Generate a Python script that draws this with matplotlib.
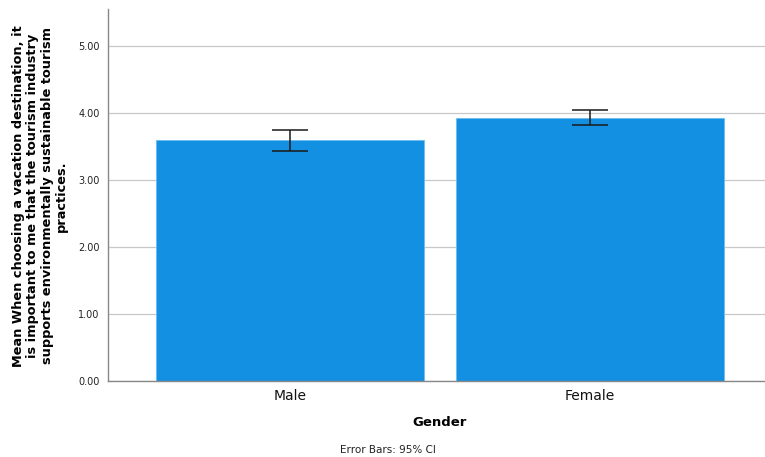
import numpy as np
import matplotlib
matplotlib.use('Agg')
import matplotlib.pyplot as plt

# values
genders = ['Male', 'Female']
means = [3.59, 3.93]
ci_low = [3.43, 3.82]
ci_high = [3.75, 4.04]
yticks = [0, 1, 2, 3, 4, 5]

plt.rcParams['font.family'] = ['DejaVu Sans']

fig = plt.figure(figsize=(7.65, 4.57), dpi=100)
ax = fig.add_axes([108 / 765, 1 - 381 / 457, 1 - 108 / 765, (381 - 9) / 457])

x = np.arange(len(genders))
means = np.array(means)
yerr = np.array([means - np.array(ci_low), np.array(ci_high) - means])

ax.bar(x, means, width=0.895, color='#1490e3', edgecolor='#6cbcf0', linewidth=0.6, zorder=2)
ax.errorbar(x, means, yerr=yerr, fmt='none', ecolor='#1a1a1a', elinewidth=1.1,
            capsize=13, capthick=1.1, zorder=3)

ax.set_xlim(-0.608, 1.586)
ax.set_ylim(0, 5.55)
ax.set_yticks(yticks)
ax.set_yticklabels(['%.2f' % v for v in yticks], fontsize=7, color='#222222')
ax.set_xticks(x)
ax.set_xticklabels(genders, fontsize=10, color='#111111')
ax.tick_params(axis='x', length=0, pad=6)
ax.tick_params(axis='y', length=0, pad=6)
ax.yaxis.grid(True, color='#c8c8c8', linewidth=0.9, zorder=0)
ax.set_axisbelow(True)
for s in ['top', 'right']:
    ax.spines[s].set_visible(False)
for s in ['left', 'bottom']:
    ax.spines[s].set_color('#888888')
    ax.spines[s].set_linewidth(1.0)

fig.text(440 / 765, 1 - 423 / 457, 'Gender', fontsize=9.5, fontweight='bold', ha='center', va='center')
fig.text(388 / 765, 1 - 450 / 457, 'Error Bars: 95% CI', fontsize=7.5, ha='center', va='center', color='#222222')
fig.text(40 / 765, 1 - 196 / 457,
         'Mean When choosing a vacation destination, it\nis important to me that the tourism industry\n'
         'supports environmentally sustainable tourism\npractices.',
         rotation=90, fontsize=9.3, fontweight='bold', ha='center', va='center', multialignment='center',
         linespacing=1.12)

fig.savefig('out.png', dpi=100)
